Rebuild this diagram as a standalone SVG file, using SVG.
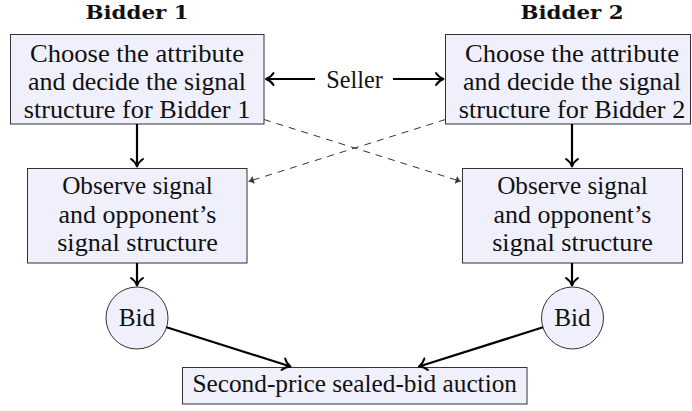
<svg xmlns="http://www.w3.org/2000/svg" width="692" height="411" viewBox="0 0 692 411">
  <style>
    .box { fill: #f0f0fd; stroke: #333; stroke-width: 1; }
    .t { font-family: "Liberation Serif", "Times New Roman", serif; font-size: 24.5px; fill: #111; text-anchor: middle; }
    .hd { font-family: "DejaVu Serif", "Liberation Serif", serif; font-size: 19px; font-weight: bold; fill: #111; text-anchor: middle; }
    .thick { fill: none; stroke: #000; stroke-width: 2.2; marker-end: url(#to); }
    .dash { fill: none; stroke: #333; stroke-width: 1; stroke-dasharray: 7 6; marker-end: url(#toSmall); }
  </style>
  <defs>
    <marker id="to" markerUnits="userSpaceOnUse" orient="auto" refX="0" refY="0" markerWidth="12" markerHeight="14" viewBox="-9 -7 11 14" overflow="visible">
      <path d="M-7.5,-6 C-5.5,-2.8 -2.2,-0.8 0,0 C-2.2,0.8 -5.5,2.8 -7.5,6" fill="none" stroke="#000" stroke-width="2" stroke-linecap="round" stroke-linejoin="round"/>
    </marker>
    <marker id="toSmall" markerUnits="userSpaceOnUse" orient="auto" refX="0" refY="0" markerWidth="8" markerHeight="8" viewBox="-6 -4 7 8" overflow="visible">
      <path d="M-5,-3.5 C-3.5,-1.6 -1.5,-0.4 0,0 C-1.5,0.4 -3.5,1.6 -5,3.5 Z" fill="#333" stroke="#333" stroke-width="0.6" stroke-linejoin="round"/>
    </marker>
  </defs>

  <!-- column headings -->
  <g id="heading1"><text class="hd" x="137" y="18.5" textLength="103" lengthAdjust="spacingAndGlyphs">Bidder 1</text></g>
  <g id="heading2"><text class="hd" x="572" y="18.5" textLength="103" lengthAdjust="spacingAndGlyphs">Bidder 2</text></g>

  <!-- seller choices -->
  <g id="choose1">
    <rect class="box" x="10.5" y="34.5" width="253.5" height="89.5"/>
    <text class="t" x="137" y="61.5" textLength="214" lengthAdjust="spacingAndGlyphs">Choose the attribute</text>
    <text class="t" x="137" y="89.8" textLength="218" lengthAdjust="spacingAndGlyphs">and decide the signal</text>
    <text class="t" x="137" y="118" textLength="226.6" lengthAdjust="spacingAndGlyphs">structure for Bidder 1</text>
  </g>
  <g id="choose2">
    <rect class="box" x="445.5" y="34.5" width="245" height="89.5"/>
    <text class="t" x="572" y="61.5" textLength="214" lengthAdjust="spacingAndGlyphs">Choose the attribute</text>
    <text class="t" x="572" y="89.8" textLength="218" lengthAdjust="spacingAndGlyphs">and decide the signal</text>
    <text class="t" x="572" y="118" textLength="226.6" lengthAdjust="spacingAndGlyphs">structure for Bidder 2</text>
  </g>
  <g id="seller">
    <text class="t" x="354.5" y="88" textLength="56.5" lengthAdjust="spacingAndGlyphs">Seller</text>
  </g>

  <!-- observation stage -->
  <g id="observe1">
    <rect class="box" x="27.5" y="168.5" width="219.5" height="94.5"/>
    <text class="t" x="137.5" y="194.2" textLength="150.7" lengthAdjust="spacingAndGlyphs">Observe signal</text>
    <text class="t" x="137.5" y="222.5" textLength="157.8" lengthAdjust="spacingAndGlyphs">and opponent’s</text>
    <text class="t" x="137.5" y="250.8" textLength="160.6" lengthAdjust="spacingAndGlyphs">signal structure</text>
  </g>
  <g id="observe2">
    <rect class="box" x="462.5" y="168.5" width="220" height="94.5"/>
    <text class="t" x="572.5" y="194.2" textLength="150.7" lengthAdjust="spacingAndGlyphs">Observe signal</text>
    <text class="t" x="572.5" y="222.5" textLength="157.8" lengthAdjust="spacingAndGlyphs">and opponent’s</text>
    <text class="t" x="572.5" y="250.8" textLength="160.6" lengthAdjust="spacingAndGlyphs">signal structure</text>
  </g>

  <!-- bids -->
  <g id="bid1">
    <circle class="box" cx="137" cy="318" r="31"/>
    <text class="t" x="137" y="326" textLength="36.5" lengthAdjust="spacingAndGlyphs">Bid</text>
  </g>
  <g id="bid2">
    <circle class="box" cx="572.5" cy="318" r="31"/>
    <text class="t" x="572.5" y="326" textLength="36.5" lengthAdjust="spacingAndGlyphs">Bid</text>
  </g>

  <!-- auction -->
  <g id="auction">
    <rect class="box" x="182.5" y="367.5" width="344.5" height="36.5"/>
    <text class="t" x="354.7" y="392" textLength="324.6" lengthAdjust="spacingAndGlyphs">Second-price sealed-bid auction</text>
  </g>

  <!-- connectors -->
  <g id="connectors">
    <path class="thick" d="M315,79 L266,79"/>
    <path class="thick" d="M393,79 L443.5,79"/>
    <path class="thick" d="M137,124 L137,166.5"/>
    <path class="thick" d="M572,124 L572,166.5"/>
    <path class="thick" d="M137,263 L137,285.5"/>
    <path class="thick" d="M572,263 L572,285.5"/>
    <path class="thick" d="M166.5,327.3 L290.5,366.5"/>
    <path class="thick" d="M543,327.3 L419,366.5"/>
    <path class="dash" d="M264,119.5 L461,181.5"/>
    <path class="dash" d="M445.5,119.5 L248.5,181.5"/>
  </g>
</svg>
